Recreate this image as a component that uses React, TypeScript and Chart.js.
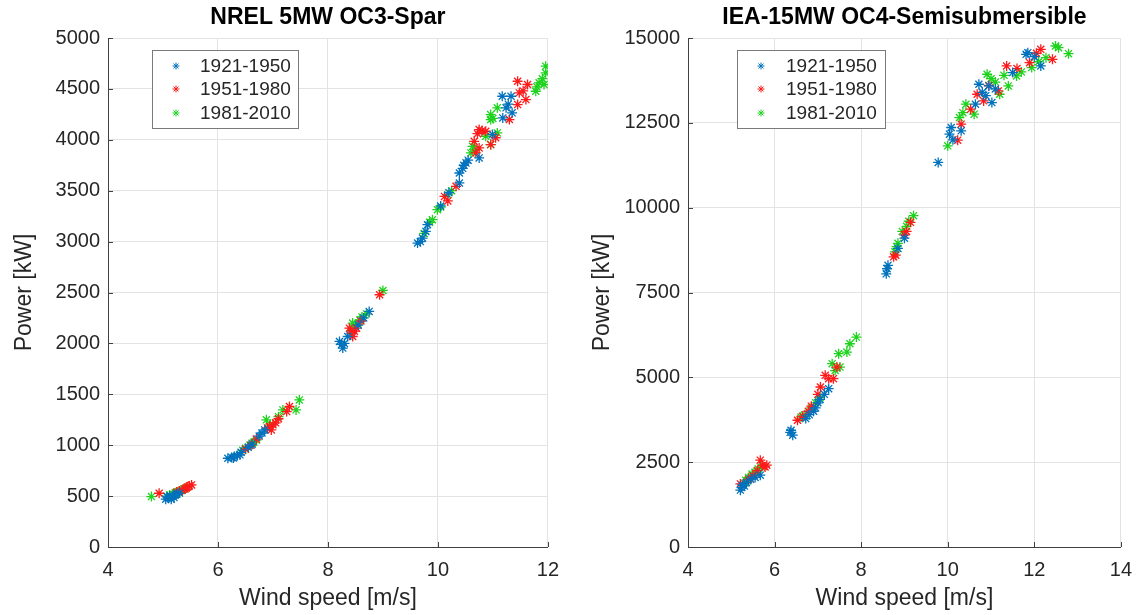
import React, { useEffect, useRef } from 'react';
import { Chart, registerables } from 'chart.js';

Chart.register(...registerables);

type Pt = [number, number];

const SERIES_LABELS = ['1921-1950', '1951-1980', '1981-2010'];
const SERIES_COLORS = ['#0072BD', '#FF1A1A', '#1ED31E'];

const TITLE_LEFT = 'NREL 5MW OC3-Spar';
const TITLE_RIGHT = 'IEA-15MW OC4-Semisubmersible';
const X_LABEL = 'Wind speed [m/s]';
const Y_LABEL = 'Power [kW]';

// NREL 5MW OC3-Spar (wind speed m/s, power kW)
const spar1921: Pt[] = [
  [5.05, 470], [5.1, 480], [5.12, 495], [5.15, 470], [5.18, 500], [5.2, 485], [5.22, 510], [5.25, 520], [5.3, 530], [5.08, 490],
  [6.18, 872], [6.25, 880], [6.3, 890], [6.35, 900], [6.4, 905], [6.42, 930], [6.55, 980], [6.62, 1010], [6.75, 1090], [6.8, 1120], [6.85, 1150], [6.28, 875],
  [8.21, 2019], [8.27, 1954], [8.3, 2000], [8.36, 2068], [8.55, 2180], [8.65, 2250], [8.75, 2314], [8.25, 1990],
  [9.63, 2986], [9.68, 3000], [9.72, 3035], [9.78, 3100], [9.81, 3166], [10.05, 3350], [10.2, 3480], [10.39, 3576], [10.39, 3674],
  [10.45, 3720], [10.51, 3773], [10.55, 3800], [10.75, 3822], [10.99, 4051], [11.18, 4215], [11.24, 4314], [11.17, 4428],
  [11.33, 4428], [11.35, 4265], [11.28, 4350], [10.47, 3750],
];
const spar1951: Pt[] = [
  [4.93, 528], [5.25, 540], [5.3, 550], [5.35, 560], [5.4, 570], [5.45, 590], [5.52, 610], [5.48, 600], [5.42, 580],
  [6.5, 960], [6.6, 1000], [6.7, 1060], [6.9, 1170], [6.94, 1183], [7.0, 1200], [7.05, 1220], [7.1, 1260], [7.25, 1330], [7.3, 1380], [6.97, 1150],
  [8.39, 2150], [8.42, 2100], [8.45, 2068], [8.52, 2150], [8.6, 2220], [8.94, 2478], [8.48, 2120],
  [10.12, 3444], [10.18, 3400], [10.33, 3543], [10.66, 3985], [10.69, 3871], [10.75, 3920], [10.75, 4100], [10.8, 4090],
  [10.87, 4084], [10.96, 3953], [11.05, 4020], [11.3, 4199], [11.45, 4575], [11.48, 4461], [11.45, 4346], [11.6, 4395],
  [11.63, 4543], [11.55, 4480], [10.72, 4060],
];
const spar1981: Pt[] = [
  [4.79, 495], [5.07, 500], [5.12, 510], [5.18, 520], [5.22, 530], [5.28, 540], [5.33, 555], [5.38, 570], [5.43, 585], [5.15, 495], [5.25, 525],
  [6.45, 950], [6.5, 970], [6.58, 1000], [6.65, 1030], [6.7, 1050], [6.88, 1249], [6.95, 1200], [7.1, 1280], [7.18, 1347], [7.42, 1347], [7.48, 1445], [6.62, 1020],
  [8.42, 2120], [8.45, 2200], [8.5, 2170], [8.58, 2230], [8.62, 2260], [8.7, 2290], [9.0, 2520], [8.55, 2190],
  [9.75, 3080], [9.85, 3190], [9.9, 3215], [9.99, 3314], [10.05, 3340], [10.18, 3461], [10.25, 3500], [10.6, 3871],
  [10.63, 3936], [10.68, 3900], [10.87, 4035], [10.96, 3953], [11.08, 4068], [10.96, 4199], [10.96, 4248], [11.0, 4210],
  [11.08, 4314], [11.78, 4477], [11.84, 4560], [11.93, 4543], [11.96, 4723], [11.96, 4658], [11.8, 4520], [11.9, 4600],
];

// IEA-15MW OC4-Semisubmersible (wind speed m/s, power kW)
const semi1921: Pt[] = [
  [5.21, 1676], [5.25, 1823], [5.24, 1750], [5.3, 1800], [5.35, 1900], [5.45, 2000], [5.67, 2117], [5.55, 2050],
  [6.38, 3441], [6.42, 3294], [6.36, 3380], [6.72, 3785], [6.8, 3900], [6.9, 4000], [6.95, 4100], [7.0, 4250], [7.05, 4350], [7.25, 4667], [7.15, 4500],
  [8.58, 8050], [8.6, 8200], [8.62, 8300], [8.85, 8800], [9.0, 9100],
  [9.78, 11333], [10.04, 12167], [10.08, 12362], [10.31, 12264], [10.12, 12000], [10.64, 13049], [10.72, 13637], [11.02, 13097],
  [10.95, 13588], [10.8, 13400], [10.88, 13300], [11.5, 13980], [11.81, 14519], [11.85, 14568], [12.15, 14176], [12.0, 14450], [11.1, 13500],
];
const semi1951: Pt[] = [
  [5.21, 1860], [5.4, 2000], [5.5, 2100], [5.6, 2250], [5.67, 2558], [5.72, 2400], [5.82, 2412], [5.78, 2360],
  [6.53, 3735], [6.65, 3850], [6.78, 4000], [6.85, 4150], [7.06, 4715], [7.17, 5059], [7.25, 4961], [7.36, 4961], [7.44, 5303], [7.0, 4500],
  [8.8, 8600], [8.75, 8550], [9.0, 9200], [9.05, 9300], [9.14, 9568],
  [10.23, 11990], [10.31, 12460], [10.53, 12902], [10.68, 13343], [10.83, 13147], [11.17, 13440], [11.36, 14176], [11.89, 14274],
  [12.15, 14666], [12.42, 14372], [10.95, 13600], [11.6, 14100], [12.05, 14550],
];
const semi1981: Pt[] = [
  [5.33, 1970], [5.4, 2050], [5.48, 2150], [5.55, 2200], [5.62, 2300], [5.7, 2350], [5.38, 1950],
  [6.61, 3832], [6.7, 3900], [6.85, 4100], [6.95, 4250], [7.05, 4400], [7.33, 5402], [7.51, 5303], [7.48, 5696], [7.67, 5744], [7.74, 5990], [7.89, 6185], [7.4, 5200],
  [8.78, 8700], [8.82, 8850], [8.85, 8950], [8.95, 9300], [9.05, 9450], [9.21, 9765], [9.1, 9600],
  [10.0, 11823], [10.27, 12655], [10.42, 13049], [10.61, 12755], [10.91, 13931], [11.2, 13343], [11.4, 13588], [11.59, 13882],
  [11.94, 14127], [12.27, 14420], [12.49, 14764], [12.56, 14715], [12.79, 14539], [11.1, 13700], [11.3, 13900], [11.7, 14000],
  [10.35, 12800], [11.0, 13800], [12.1, 14300],
];

const LEFT_X_RANGE = [4, 12];
const RIGHT_X_RANGE = [4, 14];
const LEFT_Y_RANGE = [0, 5000];
const RIGHT_Y_RANGE = [0, 15000];
const LEFT_Y_STEP = 500;
const RIGHT_Y_STEP = 2500;
const X_STEP = 2;

const FONT = '"Liberation Sans", Arial, Helvetica, sans-serif';
const TEXT = '#262626';

function drawStar(ctx: CanvasRenderingContext2D, x: number, y: number, r: number) {
  const d = r * Math.SQRT1_2;
  ctx.beginPath();
  ctx.moveTo(x - r, y); ctx.lineTo(x + r, y);
  ctx.moveTo(x, y - r); ctx.lineTo(x, y + r);
  ctx.moveTo(x - d, y - d); ctx.lineTo(x + d, y + d);
  ctx.moveTo(x - d, y + d); ctx.lineTo(x + d, y - d);
  ctx.stroke();
}

interface PanelSpec {
  title: string;
  series: Pt[][];
  xRange: number[];
  yRange: number[];
  yStep: number;
  yAxisWidth: number;
  padRight: number;
  yTitlePad: number;
  legend: { x: number; y: number; w: number; h: number; mx: number; tx: number; rows: number[] };
}

function makeChart(canvas: HTMLCanvasElement, spec: PanelSpec) {
  const decor = {
    id: 'decor',
    afterDraw(chart: any) {
      const ctx: CanvasRenderingContext2D = chart.ctx;
      const { left, right, bottom } = chart.chartArea;
      const xs = chart.scales.x;
      const ys = chart.scales.y;
      ctx.save();
      ctx.strokeStyle = '#404040';
      ctx.lineWidth = 1;
      ctx.beginPath();
      xs.ticks.forEach((t: any) => {
        const px = Math.round(xs.getPixelForValue(t.value)) + 0.5;
        ctx.moveTo(px, bottom);
        ctx.lineTo(px, bottom - 5);
      });
      ys.ticks.forEach((t: any) => {
        const py = Math.round(ys.getPixelForValue(t.value)) + 0.5;
        ctx.moveTo(left, py);
        ctx.lineTo(left + 5, py);
      });
      ctx.stroke();
      ctx.fillStyle = '#000';
      ctx.font = `bold 23px ${FONT}`;
      ctx.textAlign = 'center';
      ctx.textBaseline = 'middle';
      ctx.fillText(spec.title, (left + right) / 2, 18);
      const L = spec.legend;
      ctx.fillStyle = '#fff';
      ctx.fillRect(L.x, L.y, L.w, L.h);
      ctx.strokeStyle = '#7a7a7a';
      ctx.strokeRect(L.x + 0.5, L.y + 0.5, L.w, L.h);
      ctx.font = `19px ${FONT}`;
      ctx.textAlign = 'left';
      chart.data.datasets.forEach((ds: any, i: number) => {
        ctx.strokeStyle = ds.borderColor;
        drawStar(ctx, L.mx, L.rows[i], 3.5);
        ctx.fillStyle = TEXT;
        ctx.fillText(ds.label, L.tx, L.rows[i] + 1);
      });
      ctx.restore();
    },
  };

  const plain = (v: any) => String(v);

  return new Chart(canvas, {
    type: 'scatter',
    data: {
      datasets: spec.series.map((pts, i) => ({
        label: SERIES_LABELS[i],
        data: pts.map(([x, y]) => ({ x, y })),
        pointStyle: 'star',
        pointRadius: 5,
        pointBorderWidth: 1.3,
        borderColor: SERIES_COLORS[i],
        backgroundColor: SERIES_COLORS[i],
        showLine: false,
      })),
    },
    options: {
      animation: false,
      responsive: false,
      devicePixelRatio: 1,
      layout: { padding: { top: 38, right: spec.padRight, left: 0, bottom: 0 } },
      plugins: { legend: { display: false }, tooltip: { enabled: false }, title: { display: false } },
      scales: {
        x: {
          type: 'linear',
          min: spec.xRange[0],
          max: spec.xRange[1],
          ticks: { stepSize: X_STEP, color: TEXT, font: { size: 20, family: FONT }, padding: 11, maxRotation: 0, callback: plain },
          grid: { color: '#e3e3e3', lineWidth: 1, drawTicks: false },
          border: { display: true, color: '#404040', width: 1 },
          title: { display: true, text: X_LABEL, color: TEXT, font: { size: 23, family: FONT }, padding: { top: 0, bottom: 3 } },
          afterFit(scale: any) { scale.height = 68; },
        },
        y: {
          type: 'linear',
          min: spec.yRange[0],
          max: spec.yRange[1],
          ticks: { stepSize: spec.yStep, color: TEXT, font: { size: 20, family: FONT }, padding: 8, callback: plain },
          grid: { color: '#e3e3e3', lineWidth: 1, drawTicks: false },
          border: { display: true, color: '#404040', width: 1 },
          title: { display: true, text: Y_LABEL, color: TEXT, font: { size: 23, family: FONT }, padding: { top: spec.yTitlePad, bottom: 0 } },
          afterFit(scale: any) { scale.width = spec.yAxisWidth; },
        },
      },
    } as any,
    plugins: [decor],
  });
}

export default function App() {
  const leftRef = useRef<HTMLCanvasElement>(null);
  const rightRef = useRef<HTMLCanvasElement>(null);

  useEffect(() => {
    const c1 = makeChart(leftRef.current!, {
      title: TITLE_LEFT,
      series: [spar1921, spar1951, spar1981],
      xRange: LEFT_X_RANGE,
      yRange: LEFT_Y_RANGE,
      yStep: LEFT_Y_STEP,
      yAxisWidth: 108,
      padRight: 21,
      yTitlePad: 11,
      legend: { x: 152, y: 50, w: 146, h: 78, mx: 176, tx: 200, rows: [66, 89, 113] },
    });
    const c2 = makeChart(rightRef.current!, {
      title: TITLE_RIGHT,
      series: [semi1921, semi1951, semi1981],
      xRange: RIGHT_X_RANGE,
      yRange: RIGHT_Y_RANGE,
      yStep: RIGHT_Y_STEP,
      yAxisWidth: 118,
      padRight: 13,
      yTitlePad: 19,
      legend: { x: 167, y: 50, w: 148, h: 78, mx: 191, tx: 216, rows: [66, 89, 113] },
    });
    return () => { c1.destroy(); c2.destroy(); };
  }, []);

  return (
    <div style={{ position: 'absolute', left: 0, top: 0, width: 1143, height: 615, background: '#fff' }}>
      <canvas ref={leftRef} width={570} height={615} style={{ position: 'absolute', left: 0, top: 0 }} />
      <canvas ref={rightRef} width={573} height={615} style={{ position: 'absolute', left: 570, top: 0 }} />
    </div>
  );
}
